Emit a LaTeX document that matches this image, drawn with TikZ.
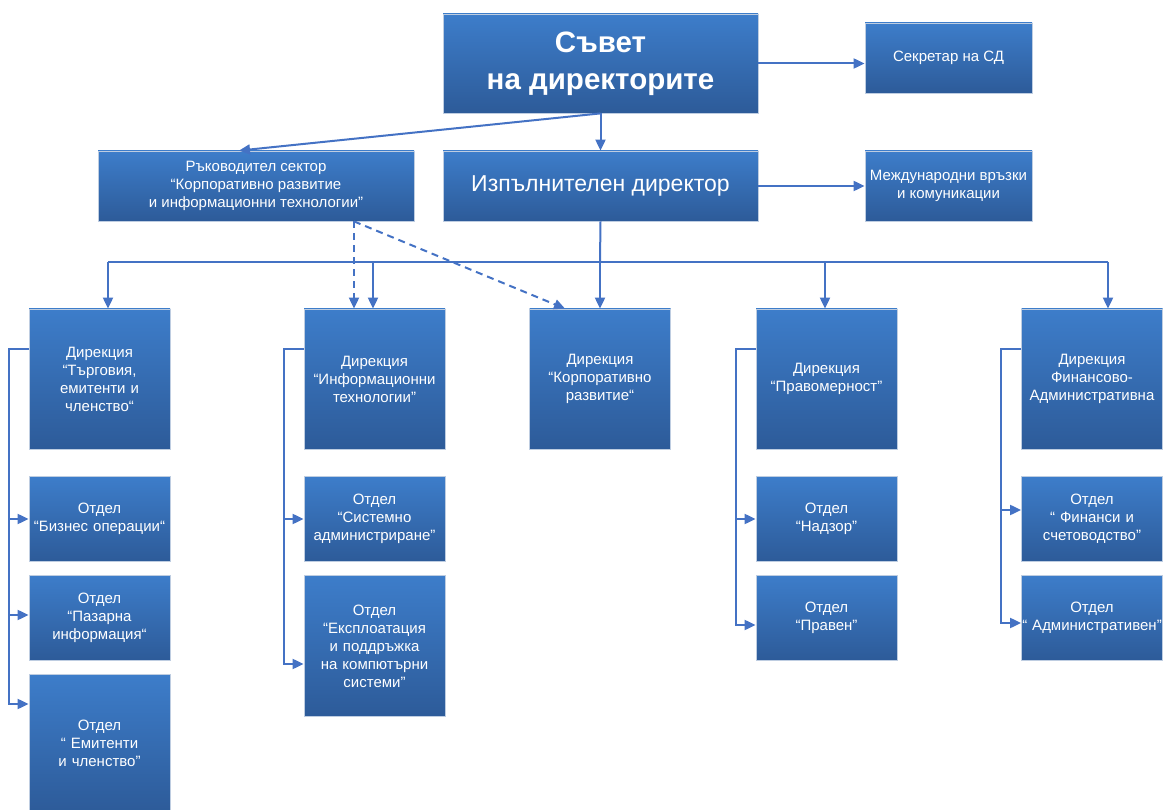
\documentclass[tikz,border=0pt]{standalone}
\usepackage{fontspec}
\setmainfont{Liberation Sans}
\usetikzlibrary{arrows.meta}
\definecolor{boxtop}{RGB}{61,125,202}
\definecolor{boxbot}{RGB}{45,91,153}
\definecolor{boxedge}{RGB}{190,205,225}
\definecolor{linkblue}{RGB}{68,114,196}

\begin{document}
\begin{tikzpicture}[x=1pt,y=-1pt,
    box/.style={draw=boxedge,line width=0.8pt,top color=boxtop,bottom color=boxbot,
      text=white,align=center,inner sep=2pt,font=\fontsize{15}{18}\selectfont},
    dirbox/.style={box,minimum width=141pt,minimum height=140pt,text width=137pt},
    deptbox/.style={box,minimum width=141pt,minimum height=85pt,text width=137pt},
    link/.style={draw=linkblue,line width=2pt},
    arr/.style={link,-{Triangle[length=11pt,width=10pt]}},
    dasharr/.style={arr,dash pattern=on 7pt off 5pt}]
  \useasboundingbox (0,0) rectangle (1163,810);

  \node[box,minimum width=315pt,minimum height=99pt,font=\bfseries\fontsize{29.5}{37}\selectfont] (board) at (600.5,63.5) {Съвет\\на директорите};
  \node[box,minimum width=167pt,minimum height=70pt] (secr) at (948.5,58) {Секретар на СД};
  \node[box,minimum width=316pt,minimum height=70pt] (sector) at (256,186) {Ръководител сектор\\“Корпоративно развитие\\и информационни технологии”};
  \node[box,minimum width=315pt,minimum height=70pt,font=\fontsize{23}{27}\selectfont] (exec) at (600.5,186) {Изпълнителен директор};
  \node[box,minimum width=167pt,minimum height=70pt] (intl) at (948.5,186) {Международни връзки\\и комуникации};

  \node[dirbox] (dtrade) at (99.5,379) {Дирекция\\“Търговия,\\емитенти и\\членство“};
  \node[dirbox] (dit) at (374.5,379) {Дирекция\\“Информационни\\технологии”};
  \node[dirbox] (dcorp) at (600,379) {Дирекция\\“Корпоративно\\развитие“};
  \node[dirbox] (dlegal) at (826.5,379) {Дирекция\\“Правомерност”};
  \node[dirbox] (dfin) at (1092,379) {Дирекция\\Финансово-\\Административна};

  \node[deptbox] (bizops) at (99.5,519) {Отдел\\“Бизнес операции“};
  \node[deptbox] (market) at (99.5,617.5) {Отдел\\“Пазарна\\информация“};
  \node[deptbox,minimum height=138pt] (issuers) at (99.5,743) {Отдел\\“ Емитенти\\и членство”};
  \node[deptbox] (sysadm) at (374.5,519) {Отдел\\“Системно\\администриране”};
  \node[deptbox,minimum height=141pt] (ops) at (374.5,646) {Отдел\\“Експлоатация\\и поддръжка\\на компютърни\\системи”};
  \node[deptbox] (superv) at (826.5,519) {Отдел\\“Надзор”};
  \node[deptbox] (legal) at (826.5,617.5) {Отдел\\“Правен”};
  \node[deptbox] (finacc) at (1092,519) {Отдел\\“ Финанси и\\счетоводство”};
  \node[deptbox] (admin) at (1092,617.5) {Отдел\\\makebox[0pt]{“ Административен”}};

  \draw[arr] (board.south) -- (exec.north);
  \draw[arr] (board.south) -- ([xshift=-17pt]sector.north);
  \draw[arr] (board.east) -- (board.east -| secr.west);
  \draw[arr] (exec.east) -- (intl.west);

  \coordinate (bus) at (600,262);
  \draw[link] (exec.south) -- (bus);
  \draw[link] ([xshift=8.5pt]dtrade.north |- bus) -- ([xshift=16pt]dfin.north |- bus);
  \foreach \n/\s in {dtrade/8.5,dit/-1.5,dcorp/0,dlegal/-1.5,dfin/16}
    \draw[arr] ([xshift=\s pt]\n.north |- bus) -- ([xshift=\s pt]\n.north);

  \coordinate (dsrc) at ([xshift=98pt]sector.south);
  \draw[dasharr] (dsrc) -- (dsrc |- dit.north);
  \draw[dasharr] (dsrc) -- ([xshift=-35pt]dcorp.north);

  \draw[arr] ([yshift=30pt]dtrade.west) -- ++(-20,0) |- ([yshift=39pt]issuers.west);
  \draw[arr] ([xshift=-20pt]bizops.west) -- (bizops.west);
  \draw[arr] ([xshift=-20pt,yshift=2.5pt]market.west) -- ([yshift=2.5pt]market.west);

  \draw[arr] ([yshift=30pt]dit.west) -- ++(-20,0) |- ([yshift=-18pt]ops.west);
  \draw[arr] ([xshift=-20pt]sysadm.west) -- (sysadm.west);

  \draw[arr] ([yshift=30pt]dlegal.west) -- ++(-20,0) |- ([yshift=-7.5pt]legal.west);
  \draw[arr] ([xshift=-20pt]superv.west) -- (superv.west);

  \draw[arr] ([yshift=30pt]dfin.west) -- ++(-20,0) |- ([yshift=-5.5pt]admin.west);
  \draw[arr] ([xshift=-20pt,yshift=9pt]finacc.west) -- ([yshift=9pt]finacc.west);
\end{tikzpicture}
\end{document}
